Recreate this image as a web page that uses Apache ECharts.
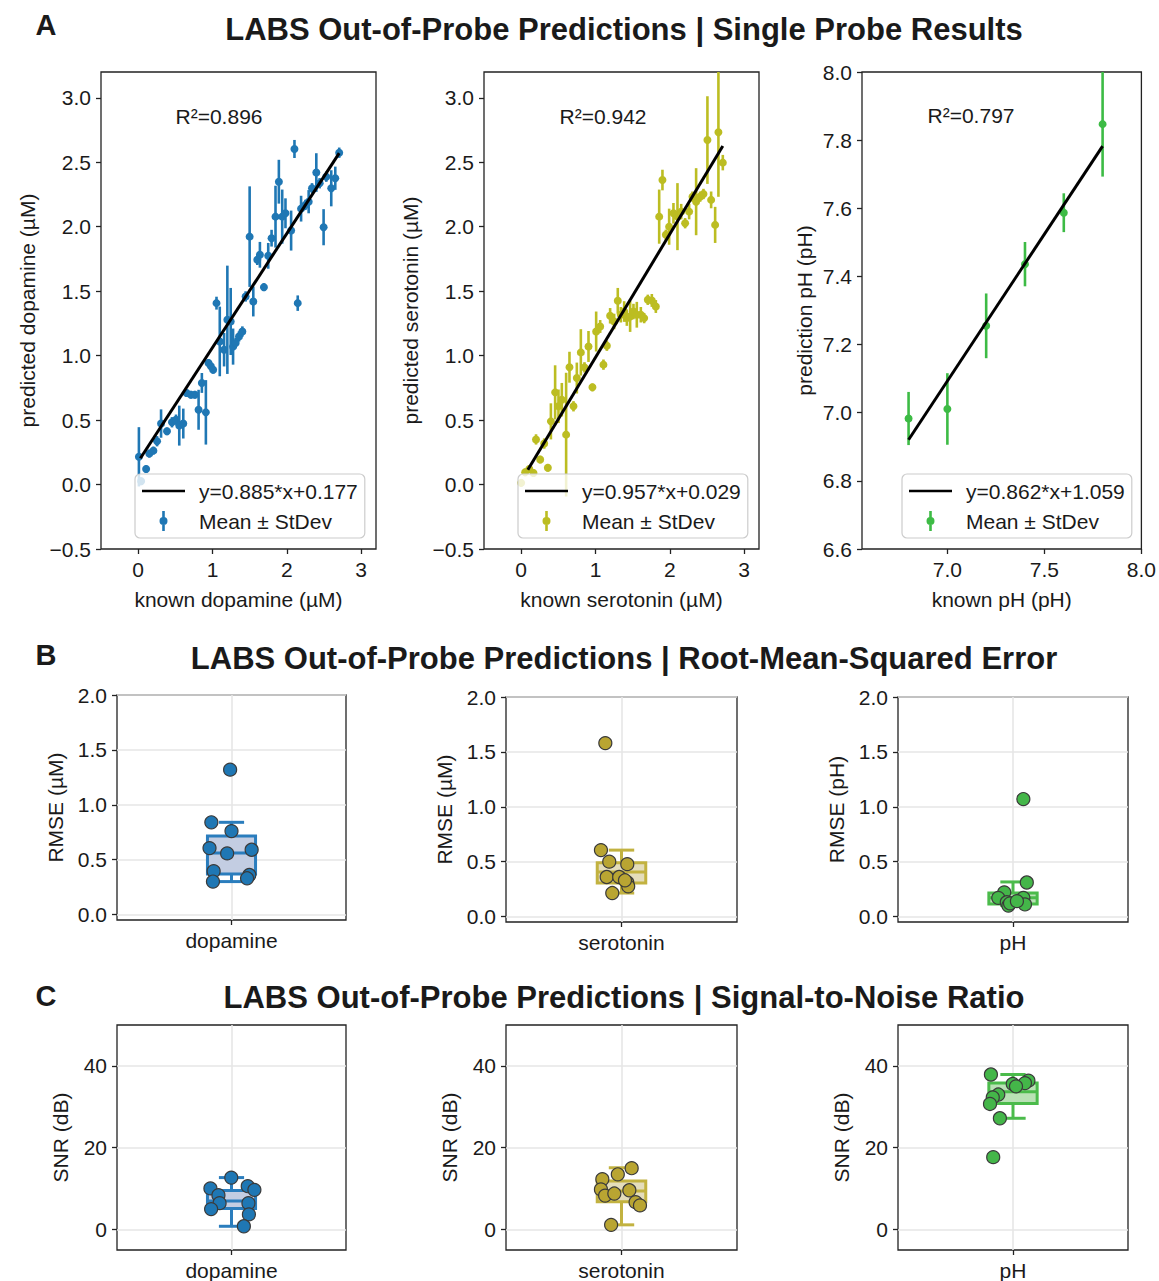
<!DOCTYPE html>
<html><head><meta charset="utf-8">
<script src="https://cdn.jsdelivr.net/npm/echarts@6/dist/echarts.min.js"></script>
<style>html,body{margin:0;padding:0;background:#fff}#c{width:1159px;height:1281px}</style>
</head><body><div id="c"></div>
<script>
// ---------- DATA ----------
// Panel A: single probe results (known, predicted mean, stdev)
const dopKnown = [0.01,0.107,0.04,0.15,0.205,0.254,0.308,0.388,0.455,0.509,0.553,0.607,0.652,0.71,0.763,0.813,0.857,0.911,0.946,0.978,1.009,1.054,1.098,1.156,1.2,1.245,1.277,1.312,1.357,1.402,1.446,1.5,1.549,1.603,1.638,1.692,1.75,1.795,1.848,1.893,1.938,1.982,2.058,2.103,2.147,2.192,2.25,2.294,2.339,2.397,2.442,2.495,2.531,2.598,2.652,2.705];
const dopPred  = [0.215,0.12,0.026,0.24,0.263,0.336,0.473,0.413,0.483,0.503,0.457,0.473,0.71,0.697,0.697,0.58,0.788,0.56,0.943,0.917,0.89,1.407,1.11,1.046,1.278,1.265,1.07,1.098,1.149,1.187,1.459,1.923,1.42,1.743,1.782,1.531,1.774,1.911,2.078,2.349,2.078,2.104,1.97,2.603,1.407,2.14,2.169,2.194,2.298,2.42,2.337,1.996,2.388,2.298,2.376,2.574];
const dopSd    = [0.23,0.03,0.03,0.03,0.03,0.04,0.11,0.03,0.04,0.04,0.155,0.116,0.03,0.03,0.03,0.155,0.077,0.25,0.03,0.03,0.03,0.05,0.27,0.13,0.42,0.26,0.14,0.04,0.04,0.04,0.04,0.39,0.116,0.04,0.10,0.03,0.10,0.065,0.24,0.17,0.21,0.116,0.155,0.07,0.06,0.10,0.04,0.09,0.04,0.15,0.04,0.14,0.04,0.14,0.09,0.04];

const serKnown = [0.0,0.054,0.11,0.166,0.2,0.256,0.31,0.359,0.4,0.457,0.502,0.547,0.605,0.65,0.704,0.749,0.803,0.852,0.906,0.959,1.009,1.063,1.107,1.153,1.197,1.251,1.3,1.341,1.386,1.422,1.466,1.511,1.556,1.61,1.655,1.704,1.758,1.812,1.857,1.901,1.947,1.991,2.049,2.103,2.153,2.206,2.26,2.305,2.354,2.408,2.453,2.506,2.556,2.61,2.654,2.713];
const serPred  = [0.013,0.095,0.12,0.09,0.35,0.194,0.318,0.13,0.49,0.715,0.607,0.658,0.387,0.91,0.607,0.826,1.025,0.909,1.071,0.754,1.187,1.226,0.93,1.077,1.309,1.265,1.425,1.317,1.342,1.291,1.304,1.342,1.317,1.317,1.291,1.433,1.428,1.381,2.078,2.362,1.937,2.0,2.104,2.078,2.117,2.027,2.117,2.233,2.194,2.233,2.254,2.672,2.208,2.014,2.732,2.497];
const serSd    = [0.03,0.03,0.03,0.03,0.04,0.03,0.04,0.03,0.14,0.21,0.13,0.13,0.48,0.12,0.04,0.12,0.18,0.04,0.12,0.03,0.155,0.05,0.04,0.04,0.06,0.06,0.10,0.06,0.08,0.06,0.12,0.06,0.10,0.06,0.04,0.04,0.05,0.05,0.21,0.08,0.04,0.14,0.08,0.26,0.06,0.04,0.06,0.04,0.26,0.04,0.04,0.34,0.065,0.14,0.5,0.06];

const phKnown = [6.8,7.0,7.2,7.4,7.6,7.8];
const phPred  = [6.983,7.011,7.255,7.436,7.587,7.847];
const phSd    = [0.078,0.105,0.095,0.065,0.057,0.154];

const fitSlopes     = [0.885,0.957,0.862];
const fitIntercepts = [0.177,0.029,1.059];
const fitXRanges    = [[0.03,2.705],[0.09,2.713],[6.8,7.8]];
const r2Values      = [0.896,0.942,0.797];

// Panel B: RMSE per probe (value, horizontal jitter) and box stats [lowWhisker,Q1,median,Q3,highWhisker]
const categories = ['dopamine','serotonin','pH'];
const rmseDop = [1.32,0.84,0.76,0.605,0.557,0.59,0.395,0.30,0.36,0.33];
const rmseDopJit = [-0.006,-0.088,0,-0.096,-0.019,0.088,-0.078,-0.081,0.078,0.068];
const rmseSer = [1.58,0.605,0.50,0.477,0.36,0.36,0.31,0.275,0.214,0.33];
const rmseSerJit = [-0.070,-0.089,-0.053,0.025,-0.064,-0.010,0.025,0.029,-0.040,0.015];
const rmsePh = [1.07,0.31,0.22,0.17,0.17,0.13,0.10,0.11,0.12,0.14];
const rmsePhJit = [0.045,0.06,-0.038,-0.064,0.045,-0.027,-0.02,0.052,-0.013,0.017];
const rmseBoxes = [[0.30,0.37,0.56,0.715,0.84],[0.214,0.305,0.405,0.49,0.605],[0.10,0.115,0.17,0.215,0.315]];

// Panel C: SNR (dB)
const snrDop = [12.7,10.06,10.6,9.7,8.4,6.45,6.45,5.0,3.7,0.8];
const snrDopJit = [-0.001,-0.092,0.071,0.1,-0.057,-0.052,0.074,-0.089,0.076,0.054];
const snrSer = [15.0,13.5,12.3,9.8,8.3,8.8,9.6,6.7,5.9,1.15];
const snrSerJit = [0.044,-0.016,-0.083,-0.089,-0.071,-0.031,0.034,0.061,0.08,-0.045];
const snrPh = [37.9,36.4,35.8,35.6,35.0,33.0,32.3,30.7,27.2,17.7];
const snrPhJit = [-0.096,0.067,0.052,-0.001,0.013,-0.064,-0.088,-0.1,-0.057,-0.086];
const snrBoxes = [[0.8,5.15,6.95,9.57,12.7],[1.15,6.8,9.4,11.85,15.1],[27.2,30.8,33.7,35.8,37.9]];

// Tick values
const concTicks = [0,1,2,3];
const concYTicks = [-0.5,0,0.5,1.0,1.5,2.0,2.5,3.0];
const phXTicks = [7.0,7.5,8.0];
const phYTicks = [6.6,6.8,7.0,7.2,7.4,7.6,7.8,8.0];
const rmseTicks = [0,0.5,1.0,1.5,2.0];
const snrTicks = [0,20,40];

// ---------- STYLE ----------
const FONT = '"Liberation Sans", Arial, Helvetica, sans-serif';
const TXT = '#1a1a1a';
const scatterColors = ['#1f77b4','#bcbd22','#3dbb45'];
const pointColors = ['#1f77b4','#b9a532','#44b649'];
const boxEdge = ['#2a7dbd','#c2b240','#4bbb4b'];
const boxFill = ['#c3cde2','#e4ddbb','#b9e2b5'];

const gridsA = [
  {left:101, top:72, width:275, height:477},
  {left:484, top:72, width:275, height:477},
  {left:862, top:72, width:281, height:477}
];
const gridsB = [
  {left:117, top:695, width:229, height:225},
  {left:506, top:697, width:231, height:225},
  {left:898, top:697, width:230, height:225}
];
const gridsC = [
  {left:117, top:1025, width:229, height:225},
  {left:506, top:1025, width:231, height:225},
  {left:898, top:1025, width:230, height:225}
];
const grids = [...gridsA, ...gridsB, ...gridsC].map(g => Object.assign({
  show:true, borderColor:'#222', borderWidth:1.3, backgroundColor:'transparent', containLabel:false
}, g));

const fmt1 = v => (v < 0 ? '\u2212' : '') + Math.abs(v).toFixed(1);
const fmt0 = v => (v < 0 ? '\u2212' : '') + Math.abs(v).toFixed(0);

function axis(gi, min, max, ticks, fmt, name, gap, isY, split, margin) {
  return {
    type:'value', gridIndex:gi, min:min, max:max, scale:false,
    name:name, nameLocation:'middle', nameGap:gap, nameRotate: isY ? 90 : 0,
    nameTextStyle:{fontSize:21, color:TXT, fontFamily:FONT},
    axisLine:{show:false, onZero:false},
    axisTick:{show:true, inside:false, length:5, customValues:ticks, lineStyle:{color:'#222', width:1.3}},
    axisLabel:{show:true, customValues:ticks, formatter:fmt, fontSize:21, color:TXT, fontFamily:FONT, margin: margin},
    splitLine:{show:!!split, lineStyle:{color:'#e6e6e6', width:1.6}}
  };
}

const xAxes = [], yAxes = [];
const xNamesA = ['known dopamine (\u00b5M)','known serotonin (\u00b5M)','known pH (pH)'];
const yNamesA = ['predicted dopamine (\u00b5M)','predicted serotonin (\u00b5M)','prediction pH (pH)'];
for (let i = 0; i < 3; i++) {
  if (i < 2) {
    xAxes.push(axis(i, -0.5, 3.2, concTicks, fmt0, xNamesA[i], 40, false, false, 10));
    yAxes.push(axis(i, -0.5, 3.2, concYTicks, fmt1, yNamesA[i], 63, true, false, 10));
  } else {
    xAxes.push(axis(i, 6.56, 8.0, phXTicks, fmt1, xNamesA[i], 40, false, false, 10));
    yAxes.push(axis(i, 6.6, 8.0, phYTicks, fmt1, yNamesA[i], 47, true, false, 10));
  }
}
const catFmt = idx => (() => categories[idx]);
for (let i = 0; i < 3; i++) {
  xAxes.push(axis(3 + i, -0.5, 0.5, [0], catFmt(i), '', 0, false, true, 10));
  yAxes.push(axis(3 + i, -0.05, 2.0, rmseTicks, fmt1, 'RMSE (' + (i < 2 ? '\u00b5M' : 'pH') + ')', 51, true, true, 10));
}
for (let i = 0; i < 3; i++) {
  xAxes.push(axis(6 + i, -0.5, 0.5, [0], catFmt(i), '', 0, false, true, 10));
  yAxes.push(axis(6 + i, -5, 50, snrTicks, fmt0, 'SNR (dB)', 46, true, true, 10));
}

// ---------- SERIES ----------
function errRender(color) {
  return function (params, api) {
    const x = api.value(0), y = api.value(1), s = api.value(2);
    const p = api.coord([x, y]), lo = api.coord([x, y - s]), hi = api.coord([x, y + s]);
    return {type:'group', children:[
      {type:'line', shape:{x1:p[0], y1:lo[1], x2:p[0], y2:hi[1]}, style:{stroke:color, lineWidth:2.6}},
      {type:'circle', shape:{cx:p[0], cy:p[1], r:4}, style:{fill:color}}
    ]};
  };
}
function boxRender(edge, fill) {
  return function (params, api) {
    const lo = api.value(1), q1 = api.value(2), md = api.value(3), q3 = api.value(4), hi = api.value(5);
    const hw = 0.105, cw = 0.055;
    const tl = api.coord([-hw, q3]), br = api.coord([hw, q1]);
    const mL = api.coord([-hw, md]), mR = api.coord([hw, md]);
    const c = api.coord([0, lo]), ch = api.coord([0, hi]);
    const cl = api.coord([-cw, lo]);
    const st = {stroke:edge, lineWidth:3, fill:null};
    return {type:'group', children:[
      {type:'rect', shape:{x:tl[0], y:tl[1], width:br[0]-tl[0], height:br[1]-tl[1]}, style:{fill:fill, stroke:edge, lineWidth:3}},
      {type:'line', shape:{x1:mL[0], y1:mL[1], x2:mR[0], y2:mR[1]}, style:st},
      {type:'line', shape:{x1:c[0], y1:br[1], x2:c[0], y2:c[1]}, style:st},
      {type:'line', shape:{x1:c[0], y1:tl[1], x2:c[0], y2:ch[1]}, style:st},
      {type:'line', shape:{x1:cl[0], y1:c[1], x2:2*c[0]-cl[0], y2:c[1]}, style:st},
      {type:'line', shape:{x1:cl[0], y1:ch[1], x2:2*c[0]-cl[0], y2:ch[1]}, style:st}
    ]};
  };
}

const series = [];
const legends = [];
const knowns = [dopKnown, serKnown, phKnown], preds = [dopPred, serPred, phPred], sds = [dopSd, serSd, phSd];
const errNames = ['Mean \u00b1 StDev', 'Mean \u00b1 StDev ', 'Mean \u00b1 StDev  '];
const legendLeft = [135, 518, 902];
const lineIcon = 'path://M0,0L0,0M52,20L52,20M0,8.7h43v2.6h-43z';
const errIcon = 'path://M0,0L0,0M52,20L52,20M20.2,0h2.6v20h-2.6zM17.5,10a4,4 0 1,1 8,0a4,4 0 1,1 -8,0z';
for (let i = 0; i < 3; i++) {
  const eq = 'y=' + fitSlopes[i].toFixed(3) + '*x+' + fitIntercepts[i].toFixed(3);
  const fx = fitXRanges[i];
  series.push({
    type:'custom', name:errNames[i], xAxisIndex:i, yAxisIndex:i, clip:true, z:2,
    itemStyle:{color:scatterColors[i]},
    data: knowns[i].map((k, j) => [k, preds[i][j], sds[i][j]]),
    encode:{x:0, y:1},
    renderItem: errRender(scatterColors[i])
  });
  series.push({
    type:'line', name:eq, xAxisIndex:i, yAxisIndex:i, z:3, symbol:'none', silent:true,
    itemStyle:{color:'#000'}, lineStyle:{color:'#000', width:3},
    data: fx.map(x => [x, fitSlopes[i] * x + fitIntercepts[i]])
  });
  legends.push({
    left:legendLeft[i], top:474, orient:'vertical', selectedMode:false,
    data:[
      {name:eq, icon:lineIcon, itemStyle:{color:'#000', borderWidth:0}},
      {name:errNames[i], icon:errIcon, itemStyle:{color:scatterColors[i], borderWidth:0}}
    ],
    itemWidth:52, itemHeight:20, itemGap:8,
    itemStyle:{borderWidth:0},
    textStyle:{fontSize:21, color:TXT, fontFamily:FONT, lineHeight:22},
    borderColor:'#cccccc', borderWidth:1.2, borderRadius:5,
    backgroundColor:'rgba(255,255,255,0.8)', padding:[6,7,6,7]
  });
}

const rmsePts = [[rmseDop, rmseDopJit],[rmseSer, rmseSerJit],[rmsePh, rmsePhJit]];
const snrPts = [[snrDop, snrDopJit],[snrSer, snrSerJit],[snrPh, snrPhJit]];
[[rmsePts, rmseBoxes, 3],[snrPts, snrBoxes, 6]].forEach(([pts, boxes, off]) => {
  for (let i = 0; i < 3; i++) {
    const b = boxes[i];
    series.push({
      type:'custom', xAxisIndex:off+i, yAxisIndex:off+i, z:3, silent:true,
      data:[[0, b[0], b[1], b[2], b[3], b[4]]],
      encode:{x:0, y:[1,2,3,4,5]},
      renderItem: boxRender(boxEdge[i], boxFill[i])
    });
    series.push({
      type:'scatter', xAxisIndex:off+i, yAxisIndex:off+i, z:4, silent:true,
      symbol:'circle', symbolSize:13,
      itemStyle:{color:pointColors[i], borderColor:'#3a3a3a', borderWidth:1.2, opacity:1},
      data: pts[i][0].map((v, j) => [pts[i][1][j], v])
    });
  }
});

// ---------- TEXT ----------
function txt(x, y, text, size, bold, align) {
  return {type:'text', x:x, y:y, z:10, style:{text:text, fill:TXT, font:(bold ? 'bold ' : '') + size + 'px ' + FONT, textAlign:align || 'center', textVerticalAlign:'middle'}};
}
const graphics = [
  txt(46, 25, 'A', 29, true),
  txt(624, 29, 'LABS Out-of-Probe Predictions | Single Probe Results', 31, true),
  txt(46, 655, 'B', 29, true),
  txt(624, 658, 'LABS Out-of-Probe Predictions | Root-Mean-Squared Error', 31, true),
  txt(46, 996, 'C', 29, true),
  txt(624, 997, 'LABS Out-of-Probe Predictions | Signal-to-Noise Ratio', 31, true),
  txt(219, 116, 'R\u00b2=' + r2Values[0].toFixed(3), 21, false),
  txt(603, 116, 'R\u00b2=' + r2Values[1].toFixed(3), 21, false),
  txt(971, 115, 'R\u00b2=' + r2Values[2].toFixed(3), 21, false)
];

const chart = echarts.init(document.getElementById('c'), null, {renderer:'svg'});
chart.setOption({
  animation:false,
  backgroundColor:'#ffffff',
  textStyle:{fontFamily:FONT},
  grid:grids, xAxis:xAxes, yAxis:yAxes,
  legend:legends,
  series:series,
  graphic:graphics
});
</script></body></html>
